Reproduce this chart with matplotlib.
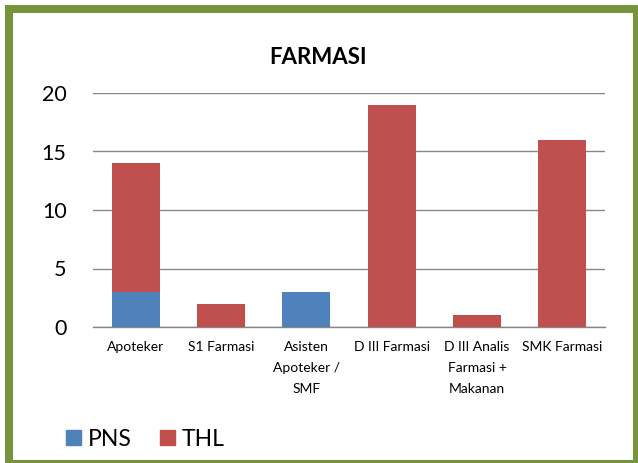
import matplotlib.pyplot as plt
from matplotlib.patches import Rectangle, Patch
import numpy as np

categories = ["Apoteker", "S1 Farmasi", "Asisten\nApoteker /\nSMF", "D III Farmasi",
              "D III Analis\nFarmasi +\nMakanan", "SMK Farmasi"]
pns = [3, 0, 3, 0, 0, 0]
thl = [11, 2, 0, 19, 1, 16]
yticks = [0, 5, 10, 15, 20]

blue = "#4F81BD"
red = "#C0504D"
green = "#77933C"

plt.rcParams["font.family"] = ["Lato", "DejaVu Sans"]

W, H = 638, 463
fig = plt.figure(figsize=(W / 100, H / 100), dpi=100)
ax = fig.add_axes([93 / W, 136 / H, 512 / W, 234 / H])

x = np.arange(len(categories))
ax.bar(x, pns, width=0.56, color=blue, zorder=3)
ax.bar(x, thl, width=0.56, bottom=pns, color=red, zorder=3)

ax.set_xlim(-0.5, len(categories) - 0.5)
ax.set_ylim(0, 20)
ax.set_yticks(yticks)
ax.set_yticklabels([str(v) for v in yticks], fontsize=15.5)
ax.set_xticks(x)
ax.set_xticklabels(categories, fontsize=10, linespacing=1.9, va="top")
ax.tick_params(axis="y", length=0, pad=19)
ax.tick_params(axis="x", length=0, pad=10)
ax.yaxis.grid(True, color="#868686", lw=1, zorder=0)
for s in ["top", "right", "left"]:
    ax.spines[s].set_visible(False)
ax.spines["bottom"].set_color("#868686")
ax.spines["bottom"].set_linewidth(1)

fig.text(318 / W, 1 - 57 / H, "FARMASI", fontsize=16, fontweight="bold",
         ha="center", va="center")

handles = [Patch(color=blue), Patch(color=red)]
fig.legend(handles, ["PNS", "THL"], loc="center left",
           bbox_to_anchor=(66 / W, 1 - 439 / H), ncol=2, frameon=False,
           fontsize=16.5, handlelength=0.65, handleheight=0.65, handletextpad=0.3,
           columnspacing=1.25, borderpad=0, borderaxespad=0)

fig.patches.append(Rectangle((9 / W, -1 / H), 628 / W, 455 / H,
                             transform=fig.transFigure, fill=False,
                             edgecolor=green, lw=5.8, zorder=10))

fig.savefig("out.png", dpi=100)
